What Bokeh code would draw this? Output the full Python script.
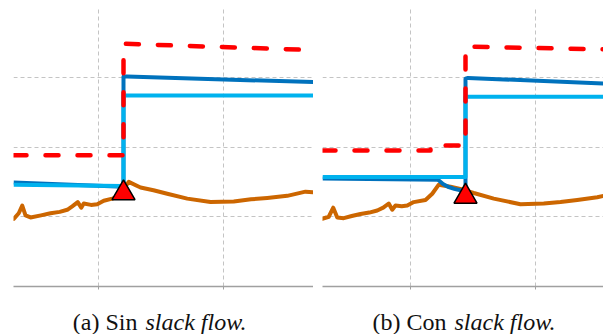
from bokeh.plotting import figure
from bokeh.layouts import row, column
from bokeh.models import Range1d, FixedTicker
from bokeh.core.properties import value
from bokeh.embed import file_html
from bokeh.resources import INLINE

# ---------------- data (time units, per-unit values) ----------------
# Panel (a): Sin slack flow
red_a_x = [3.2, 12.0, 12.0, 27.2]
red_a_y = [1.88, 1.88, 3.48, 3.39]
dark_a_x = [3.2, 12.0, 12.0, 12.3, 27.2]
dark_a_y = [1.49, 1.43, 3.01, 3.01, 2.93]
light_a_x = [3.2, 12.0, 12.0, 27.2]
light_a_y = [1.46, 1.44, 2.74, 2.74]
orange_a_x = [3.22, 3.62, 3.90, 4.16, 4.56, 5.4, 6.16, 6.9, 7.50, 7.90, 8.34, 8.62, 8.82,
              9.40, 9.90, 10.42, 11.10, 11.76, 12.1, 12.42, 13.36, 14.4, 15.50, 17.10,
              18.96, 20.82, 22.2, 23.50, 25.10, 26.56, 27.2]
orange_a_y = [0.97, 1.05, 1.16, 1.02, 0.99, 1.02, 1.05, 1.07, 1.10, 1.15, 1.21, 1.13, 1.19,
              1.17, 1.18, 1.23, 1.26, 1.30, 1.42, 1.50, 1.42, 1.38, 1.33, 1.26,
              1.21, 1.22, 1.25, 1.27, 1.30, 1.36, 1.35]
tri_a_x = [12.0]
tri_a_y = [1.34]

# Panel (b): Con slack flow
red_b_x = [2.96, 11.6, 11.6, 14.4, 14.4, 25.44]
red_b_y = [1.95, 1.95, 2.02, 2.02, 3.44, 3.40]
dark_b_x = [2.96, 12.2, 12.6, 13.0, 13.5, 14.0, 14.4, 14.4, 14.6, 25.44]
dark_b_y = [1.55, 1.53, 1.47, 1.43, 1.40, 1.38, 1.37, 2.98, 2.99, 2.91]
light_b_x = [2.96, 14.4, 14.4, 25.44]
light_b_y = [1.57, 1.57, 2.72, 2.72]
orange_b_x = [2.94, 3.46, 3.82, 4.14, 4.66, 5.3, 6.0, 6.7, 7.34, 7.82, 8.26, 8.54, 8.80,
              9.30, 9.74, 10.26, 11.20, 11.74, 12.26, 13.2, 14.16, 15.06, 16.66, 18.80,
              20.66, 22.0, 23.34, 24.94, 25.46]
orange_b_y = [0.97, 1.00, 1.13, 0.99, 0.98, 1.01, 1.04, 1.06, 1.09, 1.13, 1.19, 1.10, 1.16,
              1.15, 1.16, 1.21, 1.24, 1.33, 1.46, 1.43, 1.39, 1.34, 1.26, 1.18,
              1.19, 1.21, 1.24, 1.28, 1.30]
tri_b_x = [14.4]
tri_b_y = [1.29]

x_ticks = [0, 10, 20, 30]
y_ticks = [0, 1, 2, 3, 4]

cap_plain = ["(a) Sin", "(b) Con"]
cap_italic = ["slack flow.", "slack flow."]

RED = "#FF0000"
DARK = "#0072BD"
LIGHT = "#00B2EE"
ORANGE = "#CC6600"
GRID = "#C4C4C4"
AXIS = "#A0A0A0"
SERIF = value("Liberation Serif")


def make_panel(width, border_left, xr, red, dark, light, orange, tri):
    p = figure(width=width, height=298, x_range=Range1d(*xr), y_range=Range1d(0, 4),
               output_backend="svg", toolbar_location=None,
               min_border_left=border_left, min_border_right=0,
               min_border_top=7, min_border_bottom=12)
    p.outline_line_color = None
    p.background_fill_color = "white"
    p.border_fill_color = "white"
    p.yaxis.visible = False
    p.xaxis.ticker = FixedTicker(ticks=x_ticks)
    p.xaxis.major_label_overrides = {t: "" for t in x_ticks}
    p.xaxis.major_label_standoff = 0
    p.xaxis.axis_line_color = AXIS
    p.xaxis.axis_line_width = 1.5
    p.xaxis.major_tick_line_color = AXIS
    p.xaxis.major_tick_in = 0
    p.xaxis.major_tick_out = 3
    p.xaxis.minor_tick_line_color = None
    p.xgrid.ticker = FixedTicker(ticks=x_ticks)
    p.ygrid.ticker = FixedTicker(ticks=y_ticks)
    for g in (p.xgrid, p.ygrid):
        g.grid_line_color = GRID
        g.grid_line_dash = "4 3"
        g.grid_line_width = 1

    p.line(orange[0], orange[1], line_color=ORANGE, line_width=4, line_join="round", line_cap="round")
    p.line(dark[0], dark[1], line_color=DARK, line_width=4, line_join="round")
    p.line(light[0], light[1], line_color=LIGHT, line_width=4, line_join="round")
    p.line(red[0], red[1], line_color=RED, line_width=4.5, line_dash="13 19", line_cap="round",
           line_join="round")
    p.scatter(tri[0], tri[1], marker="triangle", size=23, fill_color=RED,
              line_color="black", line_width=1.5)
    return p


pa = make_panel(313, 13, (3.2, 27.2), (red_a_x, red_a_y), (dark_a_x, dark_a_y),
                (light_a_x, light_a_y), (orange_a_x, orange_a_y), (tri_a_x, tri_a_y))
pb = make_panel(290, 9, (2.96, 25.44), (red_b_x, red_b_y), (dark_b_x, dark_b_y),
                (light_b_x, light_b_y), (orange_b_x, orange_b_y), (tri_b_x, tri_b_y))

# caption strip: x in page pixels, y measured from its top
cap = figure(width=603, height=36, x_range=Range1d(0, 603), y_range=Range1d(36, 0),
             output_backend="svg", toolbar_location=None,
             min_border_left=0, min_border_right=0, min_border_top=0, min_border_bottom=0)
cap.axis.visible = False
cap.grid.visible = False
cap.outline_line_color = None
cap.text(x=[137, 446], y=[23, 23], text=cap_plain, text_font=SERIF,
         text_font_size="24px", text_align="right", text_baseline="alphabetic",
         text_color="#111111")
cap.text(x=[145, 454], y=[23, 23], text=cap_italic, text_font=SERIF,
         text_font_size="24px", text_font_style="italic", text_align="left",
         text_baseline="alphabetic", text_color="#111111")

layout = column(row(pa, pb), cap)
open("out.html", "w").write(file_html(layout, INLINE))
